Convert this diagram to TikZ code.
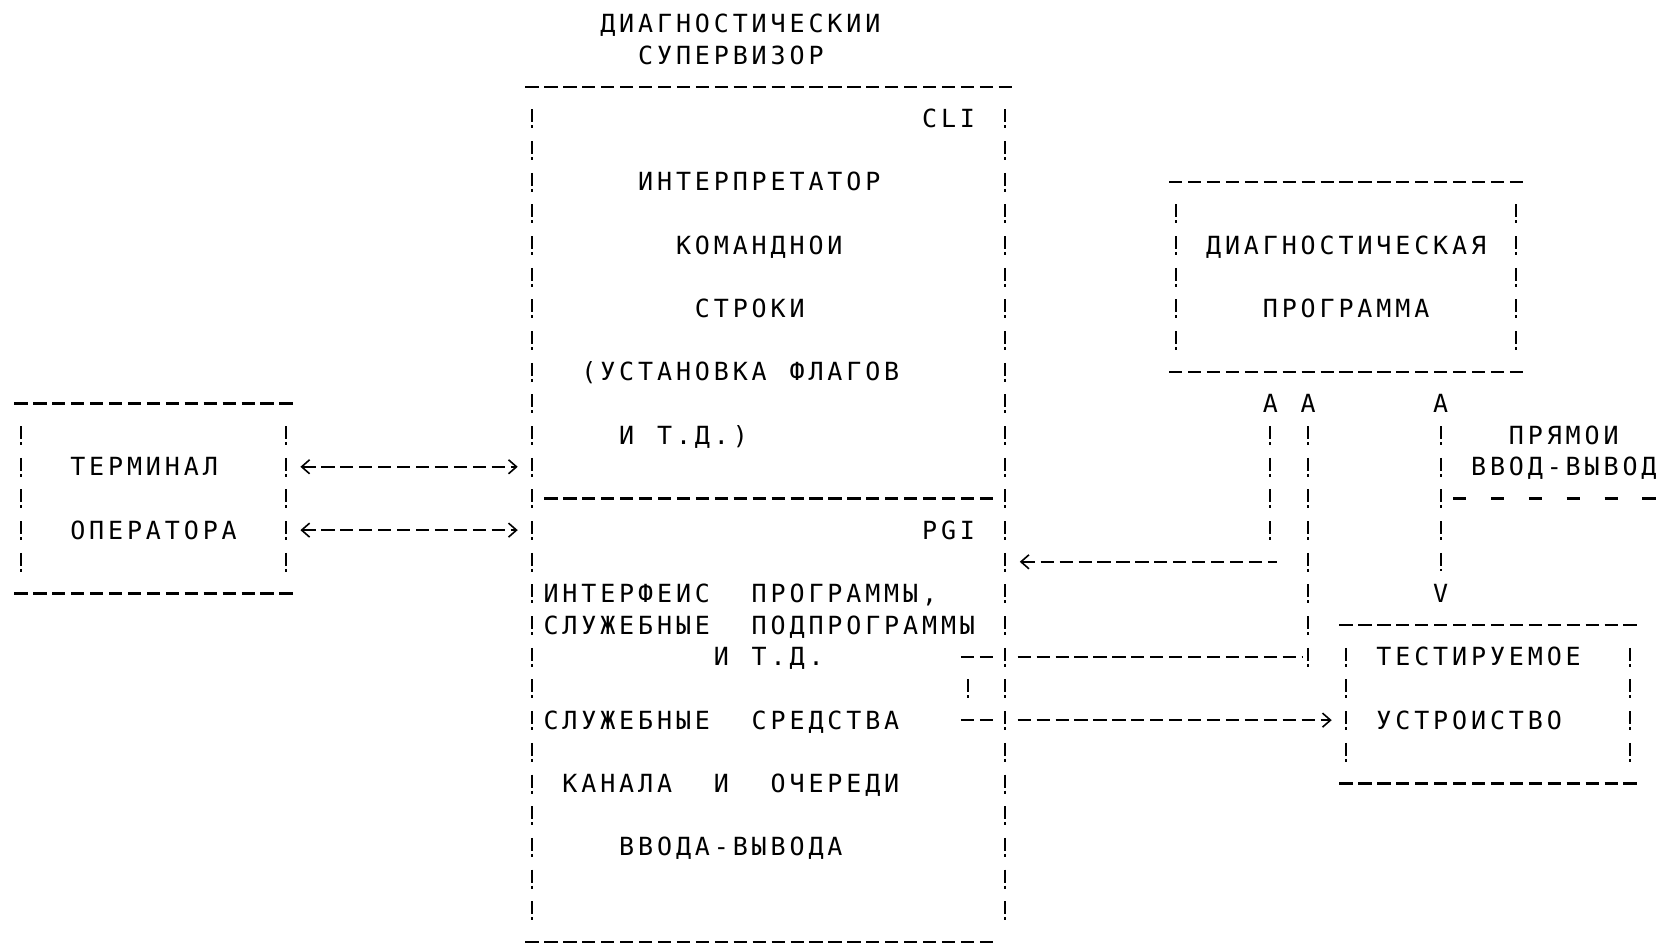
\documentclass[tikz,border=0pt]{standalone}
\usepackage{fontspec}
\setmonofont{DejaVu Sans Mono}
\usetikzlibrary{arrows.meta}
\newlength\cellw \setlength\cellw{9.465pt}
\ExplSyntaxOn
\NewDocumentCommand\gridtxt{m}{\tl_map_inline:nn{#1}{\makebox[\cellw][c]{##1}}}
\ExplSyntaxOff
\tikzset{
  txt/.style={inner sep=0pt, outer sep=0pt, anchor=base west, font=\ttfamily\fontsize{12.5}{14}\selectfont},
  hdash/.style={line width=1.05pt, dash pattern=on 6.6pt off 2.865pt},
  hdashw/.style={line width=1.05pt, dash pattern=on 6.6pt off 12.33pt},
  vbang/.style={line width=1pt, dash pattern=on 6.5pt off 1.5pt on 1.5pt off 6.335pt},
  >={Straight Barb[length=4pt,width=7pt,line width=0.8pt]}
}
% text node: name, column, row, text (~ = one blank cell)
\newcommand\tx[4]{\node[txt] (#1) at ({#2-0.5},{#3+0.284}) {\gridtxt{#4}};}
% row of dashes from column #1 to #2 on row #3
\newcommand\hrow[3]{\draw[hdash] ({#1-0.35},#3) -- ({#2+0.35},#3);}
% column of '!' at column #1 from row #2 to row #3
\newcommand\vcol[3]{\draw[vbang] (#1,{#2-0.284}) -- (#1,{#3+0.316});}
\begin{document}
\begin{tikzpicture}[x=9.465pt, y=-15.835pt]
\useasboundingbox (-1.1094,-0.7389) rectangle (86.846,29.163);
% title
\tx{t1}{31}{0}{ДИАГНОСТИЧЕСКИИ}
\tx{t2}{33}{1}{СУПЕРВИЗОР}
% supervisor box
\hrow{27}{52}{2}
\hrow{27}{51}{29}
\vcol{27}{3}{28}
\vcol{52}{3}{28}
\hrow{28}{51}{15}
\tx{cli}{48}{3}{CLI}
\tx{c1}{33}{5}{ИНТЕРПРЕТАТОР}
\tx{c2}{35}{7}{КОМАНДНОИ}
\tx{c3}{36}{9}{СТРОКИ}
\tx{c4}{30}{11}{(УСТАНОВКА~ФЛАГОВ}
\tx{c5}{32}{13}{И~Т.Д.)}
\tx{pgi}{48}{16}{PGI}
\tx{p1}{28}{18}{ИНТЕРФЕИС~~ПРОГРАММЫ,}
\tx{p2}{28}{19}{СЛУЖЕБНЫЕ~~ПОДПРОГРАММЫ}
\tx{p3}{37}{20}{И~Т.Д.}
\tx{p4}{28}{22}{СЛУЖЕБНЫЕ~~СРЕДСТВА}
\tx{p5}{29}{24}{КАНАЛА~~И~~ОЧЕРЕДИ}
\tx{p6}{32}{26}{ВВОДА-ВЫВОДА}
% terminal box
\hrow{0}{14}{12}
\hrow{0}{14}{18}
\vcol{0}{13}{17}
\vcol{14}{13}{17}
\tx{tm1}{3}{14}{ТЕРМИНАЛ}
\tx{tm2}{3}{16}{ОПЕРАТОРА}
% diagnostic program box
\hrow{61}{79}{5}
\hrow{61}{79}{11}
\vcol{61}{6}{10}
\vcol{79}{6}{10}
\tx{d1}{63}{7}{ДИАГНОСТИЧЕСКАЯ}
\tx{d2}{66}{9}{ПРОГРАММА}
% device under test box
\hrow{70}{85}{19}
\hrow{70}{85}{24}
\vcol{70}{20}{23}
\vcol{85}{20}{23}
\tx{u1}{72}{20}{ТЕСТИРУЕМОЕ}
\tx{u2}{72}{22}{УСТРОИСТВО}
% arrow letters and labels
\tx{a1}{66}{12}{A}
\tx{a2}{68}{12}{A}
\tx{a3}{75}{12}{A}
\tx{v3}{75}{18}{V}
\tx{l1}{79}{13}{ПРЯМОИ}
\tx{l2}{77}{14}{ВВОД-ВЫВОД}
% connector end points
\coordinate (tmA) at (14.76,14);
\coordinate (svA) at (26.24,14);
\coordinate (tmB) at (14.76,16);
\coordinate (svB) at (26.24,16);
\coordinate (pgiR) at (52.76,17);
\coordinate (k1) at (66,17);
\coordinate (k2) at (68,20);
\coordinate (svR1) at (52.65,20);
\coordinate (in1) at (49.65,20);
\coordinate (in2) at (49.65,22);
\coordinate (svR2) at (52.65,22);
\coordinate (devL) at (69.24,22);
\coordinate (br) at (75,15);
\coordinate (edge) at (86.35,15);
% terminal <-> supervisor
\draw[hdash,<->] (tmA) -- (svA);
\draw[hdash,<->] (tmB) -- (svB);
% diagnostic program <-> PGI
\draw[vbang] ([yshift=-6.84pt]a1.south) -- (66,16.316);
\draw[hdash,<-] (pgiR) -- ([xshift=3.3pt]k1);
% diagnostic program -> channel services -> device
\draw[vbang] ([yshift=-6.84pt]a2.south) -- (68,20.316);
\draw[hdash] (svR1) -- ([xshift=-3.3pt]k2);
\draw[hdash] (in1) -- (51.35,20);
\draw[vbang] (50,20.716) -- (50,21.316);
\draw[hdash] (in2) -- (51.35,22);
\draw[hdash,->] (svR2) -- (devL);
% direct I/O
\draw[vbang] ([yshift=-6.84pt]a3.south) -- ([yshift=6.84pt]v3.north);
\draw[hdashw] ([xshift=6.2pt]br) -- (edge);
\end{tikzpicture}
\end{document}
